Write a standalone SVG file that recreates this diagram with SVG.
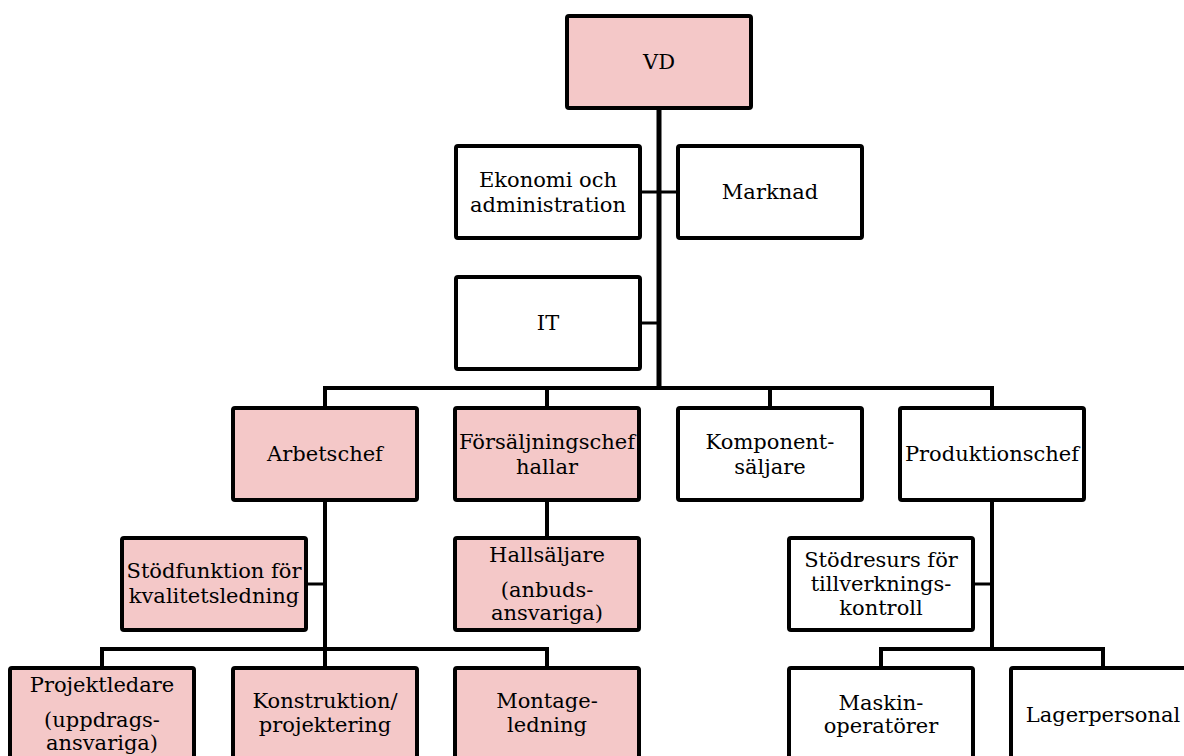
<svg xmlns="http://www.w3.org/2000/svg" width="1184" height="756" viewBox="0 0 1184 756">
<style>
.box{stroke:#000;stroke-width:4;stroke-linejoin:round}
.pink{fill:#F4C8C8}
.white{fill:#fff}
text{font-family:"DejaVu Serif","Liberation Serif",serif;font-size:21px;fill:#000;text-anchor:middle}
.c{fill:none;stroke:#000;stroke-width:4}
.t{fill:none;stroke:#000;stroke-width:5}
.s{fill:none;stroke:#000;stroke-width:3}
</style>
<rect width="1184" height="756" fill="#fff"/>
<g id="connectors">
<path class="t" d="M659 108V390"/>
<path class="s" d="M640 192H678"/>
<path class="s" d="M640 323H659"/>
<path class="c" d="M325 408V388H992V408M547 388V408M770 388V408"/>
<path class="c" d="M325 500V668"/>
<path class="s" d="M306 584H325"/>
<path class="c" d="M102 668V649H547V668"/>
<path class="c" d="M547 500V538"/>
<path class="c" d="M992 500V649"/>
<path class="s" d="M973 584H992"/>
<path class="c" d="M881 668V649H1103V668"/>
</g>
<g id="vd"><rect class="box pink" x="567" y="16" width="184" height="92" rx="2"/><text x="659" y="69">VD</text></g>
<g id="ekonomi"><rect class="box white" x="456" y="146" width="184" height="92" rx="2"/><text x="548" y="187">Ekonomi och</text><text x="548" y="212">administration</text></g>
<g id="marknad"><rect class="box white" x="678" y="146" width="184" height="92" rx="2"/><text x="770" y="199">Marknad</text></g>
<g id="it"><rect class="box white" x="456" y="277" width="184" height="92" rx="2"/><text x="548" y="330">IT</text></g>
<g id="arbetschef"><rect class="box pink" x="233" y="408" width="184" height="92" rx="2"/><text x="325" y="461">Arbetschef</text></g>
<g id="forsaljningschef"><rect class="box pink" x="455" y="408" width="184" height="92" rx="2"/><text x="547" y="449">Försäljningschef</text><text x="547" y="474">hallar</text></g>
<g id="komponent"><rect class="box white" x="678" y="408" width="184" height="92" rx="2"/><text x="770" y="449">Komponent-</text><text x="770" y="474">säljare</text></g>
<g id="produktionschef"><rect class="box white" x="900" y="408" width="184" height="92" rx="2"/><text x="992" y="461">Produktionschef</text></g>
<g id="stodfunktion"><rect class="box pink" x="122" y="538" width="184" height="92" rx="2"/><text x="214" y="578">Stödfunktion för</text><text x="214" y="603">kvalitetsledning</text></g>
<g id="hallsaljare"><rect class="box pink" x="455" y="538" width="184" height="92" rx="2"/><text x="547" y="562">Hallsäljare</text><text x="547" y="597">(anbuds-</text><text x="547" y="620">ansvariga)</text></g>
<g id="stodresurs"><rect class="box white" x="789" y="538" width="184" height="92" rx="2"/><text x="881" y="567">Stödresurs för</text><text x="881" y="591">tillverknings-</text><text x="881" y="615">kontroll</text></g>
<g id="projektledare"><rect class="box pink" x="10" y="668" width="184" height="92" rx="2"/><text x="102" y="692">Projektledare</text><text x="102" y="727">(uppdrags-</text><text x="102" y="750">ansvariga)</text></g>
<g id="konstruktion"><rect class="box pink" x="233" y="668" width="184" height="92" rx="2"/><text x="325" y="708">Konstruktion/</text><text x="325" y="732">projektering</text></g>
<g id="montage"><rect class="box pink" x="455" y="668" width="184" height="92" rx="2"/><text x="547" y="708">Montage-</text><text x="547" y="732">ledning</text></g>
<g id="maskin"><rect class="box white" x="789" y="668" width="184" height="92" rx="2"/><text x="881" y="710">Maskin-</text><text x="881" y="733">operatörer</text></g>
<g id="lager"><rect class="box white" x="1011" y="668" width="184" height="92" rx="2"/><text x="1103" y="722">Lagerpersonal</text></g>
</svg>
